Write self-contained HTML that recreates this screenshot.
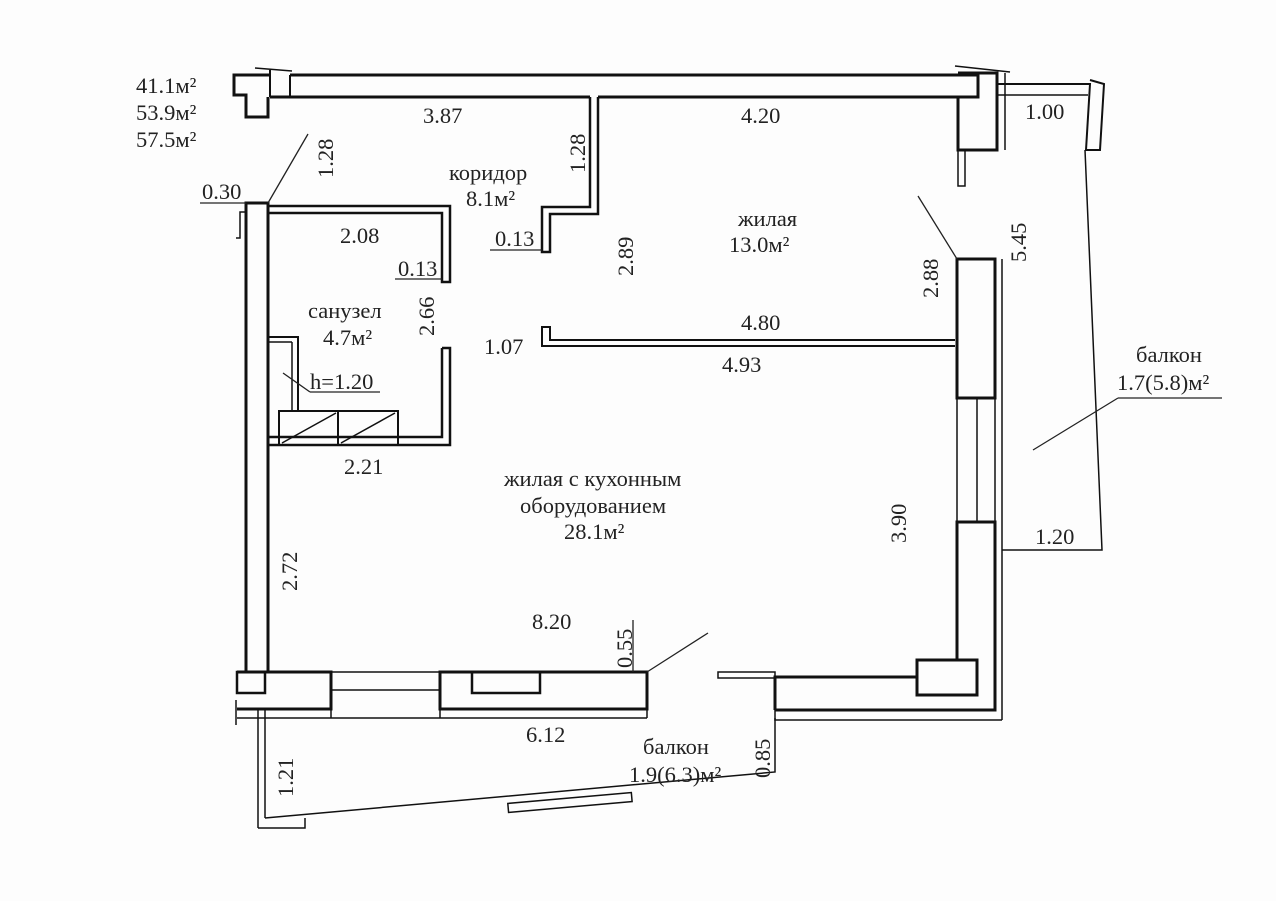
<!DOCTYPE html>
<html><head><meta charset="utf-8"><style>
html,body{margin:0;padding:0;background:#fff}
svg{display:block}
text{font-family:"Liberation Serif","DejaVu Serif",serif;font-size:22.5px;fill:#222}
</style></head><body>
<svg width="1276" height="901" viewBox="0 0 1276 901" xmlns="http://www.w3.org/2000/svg">
<rect width="1276" height="901" fill="#fdfdfd"/>
<g fill="none" stroke="#111" stroke-width="3">
<polyline points="290,75 978,75 978,97 598,97"/>
<line x1="270" y1="97" x2="590" y2="97"/>
<polyline points="270,75 234,75 234,95 246,95 246,117 268,117 268,97"/>
<line x1="270" y1="70" x2="270" y2="97" stroke-width="2"/>
<line x1="290" y1="75" x2="290" y2="97" stroke-width="2"/>
<polyline points="255,68 292,71" stroke-width="1.5"/>
<polyline points="958,97 958,150 997,150 997,73 958,73" />
<line x1="1005" y1="73" x2="1005" y2="150" stroke-width="1.5"/>
<polyline points="955,66 1010,72" stroke-width="1.5"/>
<polyline points="998,84 1090,84 1086,150 1100,150 1104,84 1090,80" stroke-width="2"/>
<line x1="998" y1="95" x2="1088" y2="95" stroke-width="1.5"/>
<polyline points="1085,150 1102,550 1002,550" stroke-width="1.5"/>
<rect x="958" y="150" width="7" height="36" stroke-width="1.5"/>
<polyline points="590,97 590,207 542,207 542,252 550,252 550,214 598,214 598,97" stroke-width="2.5"/>
<polyline points="246,672 246,203 268,203 268,672" stroke-width="3"/>
<polyline points="246,212 240,212 240,238 236,238" stroke-width="1.5"/>
<polyline points="268,206 450,206 450,282 442,282 442,213 268,213" stroke-width="2.5"/>
<polyline points="442,348 450,348 450,445 268,445 268,437 442,437 442,348" stroke-width="2.5"/>
<polyline points="268,337 298,337 298,411" stroke-width="2"/>
<line x1="268" y1="342" x2="292" y2="342" stroke-width="1.5"/>
<line x1="292" y1="342" x2="292" y2="411" stroke-width="1.5"/>
<rect x="279" y="411" width="119" height="34" stroke-width="2"/>
<line x1="338" y1="411" x2="338" y2="445" stroke-width="2"/>
<line x1="282" y1="443" x2="336" y2="413" stroke-width="1.5"/>
<line x1="341" y1="443" x2="395" y2="413" stroke-width="1.5"/>
<polyline points="955,340 550,340 550,327 542,327 542,346 955,346" stroke-width="2"/>
<rect x="957" y="259" width="38" height="139" stroke-width="3"/>
<line x1="1002" y1="259" x2="1002" y2="720" stroke-width="1.5"/>
<line x1="957" y1="398" x2="957" y2="522" stroke-width="1.5"/>
<line x1="977" y1="398" x2="977" y2="522" stroke-width="1.5"/>
<line x1="995" y1="398" x2="995" y2="522" stroke-width="1.5"/>
<polyline points="957,660 957,522 995,522 995,710 775,710" stroke-width="3"/>
<rect x="917" y="660" width="60" height="35" stroke-width="3"/>
<polyline points="917,677 775,677 775,710" stroke-width="3"/>
<polyline points="775,710 775,720 1002,720" stroke-width="1.5"/>
<rect x="718" y="672" width="57" height="6" stroke-width="1.5"/>
<polyline points="237,672 331,672 331,709 237,709" stroke-width="3"/>
<rect x="237" y="672" width="28" height="21" stroke-width="2.5"/>
<rect x="440" y="672" width="207" height="37" stroke-width="3"/>
<rect x="472" y="672" width="68" height="21" stroke-width="2.5"/>
<g stroke-width="1.5">
<line x1="331" y1="672" x2="440" y2="672"/>
<line x1="331" y1="690" x2="440" y2="690"/>
<line x1="237" y1="718" x2="647" y2="718"/>
<line x1="331" y1="709" x2="331" y2="718"/>
<line x1="440" y1="709" x2="440" y2="718"/>
<line x1="647" y1="709" x2="647" y2="718"/>
<line x1="236" y1="700" x2="236" y2="725"/>
</g>
<g stroke-width="1.5">
<line x1="258" y1="709" x2="258" y2="828"/>
<line x1="265" y1="709" x2="265" y2="818"/>
<polyline points="265,818 775,772 775,718"/>
<polyline points="258,828 305,828 305,818"/>
<rect x="508" y="798" width="124" height="9" transform="rotate(-5 570 803)"/>
</g>
</g>
<g stroke="#222" stroke-width="1.3" fill="none">
<line x1="200" y1="203" x2="246" y2="203"/>
<line x1="268" y1="203" x2="308" y2="134"/>
<line x1="490" y1="250" x2="542" y2="250"/>
<line x1="395" y1="279" x2="442" y2="279"/>
<line x1="310" y1="392" x2="380" y2="392"/>
<line x1="283" y1="373" x2="310" y2="392"/>
<line x1="918" y1="196" x2="957" y2="259"/>
<line x1="1033" y1="450" x2="1118" y2="398"/>
<line x1="1118" y1="398" x2="1222" y2="398"/>
<line x1="633" y1="620" x2="633" y2="672"/>
<line x1="647" y1="672" x2="708" y2="633"/>
</g>
<text x="136" y="93">41.1м²</text>
<text x="136" y="120">53.9м²</text>
<text x="136" y="147">57.5м²</text>
<text x="423" y="123">3.87</text>
<text x="741" y="123">4.20</text>
<text x="1025" y="119">1.00</text>
<text x="202" y="199">0.30</text>
<text transform="translate(333,178) rotate(-90)">1.28</text>
<text transform="translate(585,173) rotate(-90)">1.28</text>
<text x="449" y="180">коридор</text>
<text x="466" y="206">8.1м²</text>
<text x="495" y="246">0.13</text>
<text x="340" y="243">2.08</text>
<text x="398" y="276">0.13</text>
<text transform="translate(434,336) rotate(-90)">2.66</text>
<text transform="translate(633,276) rotate(-90)">2.89</text>
<text x="738" y="226">жилая</text>
<text x="729" y="252">13.0м²</text>
<text transform="translate(1026,262) rotate(-90)">5.45</text>
<text transform="translate(938,298) rotate(-90)">2.88</text>
<text x="308" y="318">санузел</text>
<text x="323" y="345">4.7м²</text>
<text x="484" y="354">1.07</text>
<text x="741" y="330">4.80</text>
<text x="722" y="372">4.93</text>
<text x="310" y="389">h=1.20</text>
<text x="344" y="474">2.21</text>
<text x="1136" y="362">балкон</text>
<text x="1117" y="390">1.7(5.8)м²</text>
<text x="504" y="486">жилая с кухонным</text>
<text x="520" y="513">оборудованием</text>
<text x="564" y="539">28.1м²</text>
<text transform="translate(906,543) rotate(-90)">3.90</text>
<text x="1035" y="544">1.20</text>
<text transform="translate(297,591) rotate(-90)">2.72</text>
<text x="532" y="629">8.20</text>
<text transform="translate(632,668) rotate(-90)">0.55</text>
<text x="526" y="742">6.12</text>
<text x="643" y="754">балкон</text>
<text x="629" y="782">1.9(6.3)м²</text>
<text transform="translate(770,778) rotate(-90)">0.85</text>
<text transform="translate(293,797) rotate(-90)">1.21</text>
</svg>
</body></html>
